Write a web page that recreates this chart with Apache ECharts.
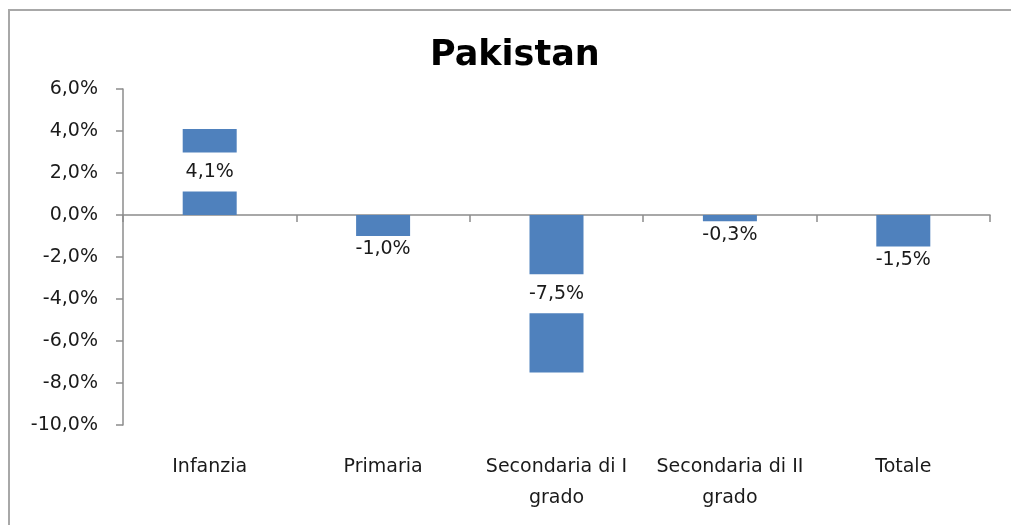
<!DOCTYPE html>
<html>
<head>
<meta charset="utf-8">
<script src="https://cdn.jsdelivr.net/npm/echarts@6/dist/echarts.min.js"></script>
<style>
  html, body { margin: 0; padding: 0; background: #fff; }
  #chart { width: 1011px; height: 525px; }
</style>
</head>
<body>
<div id="chart"></div>
<script>
// School-level variation for Pakistan, in percent
const title = 'Pakistan';
const categories = ['Infanzia', 'Primaria', 'Secondaria di I grado', 'Secondaria di II grado', 'Totale'];
const values = [4.1, -1.0, -7.5, -0.3, -1.5];
const yTicks = { min: -10, max: 6, step: 2 };

const FONT = '"DejaVu Sans", "Noto Sans", sans-serif';
const fmtPct = v => v.toFixed(1).replace('.', ',') + '%';

// Large bars carry their label in the middle on a white band; short ones below the bar
const seriesData = values.map(v => {
  const big = Math.abs(v) >= 3;
  return {
    value: v,
    label: big
      ? { position: 'inside', backgroundColor: '#fff', padding: [10, 40] }
      : { position: 'bottom', distance: 4 }
  };
});

const chart = echarts.init(document.getElementById('chart'), null, { renderer: 'canvas' });
chart.setOption({
  animation: false,
  backgroundColor: '#fff',
  title: {
    text: title,
    left: 430,
    top: 38,
    padding: 0,
    textStyle: { fontFamily: FONT, fontSize: 35, fontWeight: 'bold', color: '#000' }
  },
  graphic: [{
    type: 'rect',
    shape: { x: 9, y: 10, width: 1030, height: 560 },
    style: { fill: 'none', stroke: '#a8a8a8', lineWidth: 2 },
    silent: true
  }],
  grid: { left: 123, right: 21, top: 89, bottom: 100, containLabel: false },
  xAxis: [
    {
      type: 'category',
      data: categories,
      axisLine: { onZero: true, lineStyle: { color: '#8c8c8c', width: 1.5 } },
      axisTick: { show: true, length: 7, lineStyle: { color: '#8c8c8c', width: 1.5 } },
      axisLabel: { show: false },
      splitLine: { show: false }
    },
    {
      type: 'category',
      data: categories,
      position: 'bottom',
      axisLine: { show: false },
      axisTick: { show: false },
      axisLabel: {
        interval: 0,
        hideOverlap: false,
        margin: 27,
        fontFamily: FONT,
        fontSize: 19,
        lineHeight: 31,
        color: '#1a1a1a',
        formatter: s => s.replace(' grado', '\ngrado')
      },
      splitLine: { show: false }
    }
  ],
  yAxis: {
    type: 'value',
    min: yTicks.min,
    max: yTicks.max,
    interval: yTicks.step,
    axisLine: { show: true, lineStyle: { color: '#8c8c8c', width: 1.5 } },
    axisTick: { show: true, length: 7, lineStyle: { color: '#8c8c8c', width: 1.5 } },
    splitLine: { show: false },
    axisLabel: {
      margin: 25,
      fontFamily: FONT,
      fontSize: 19,
      color: '#1a1a1a',
      formatter: v => fmtPct(v)
    }
  },
  series: [{
    type: 'bar',
    xAxisIndex: 0,
    data: seriesData,
    barWidth: 54,
    itemStyle: { color: '#4f81bd' },
    label: {
      show: true,
      fontFamily: FONT,
      fontSize: 19,
      color: '#1a1a1a',
      formatter: p => fmtPct(p.value)
    }
  }]
});
</script>
</body>
</html>
